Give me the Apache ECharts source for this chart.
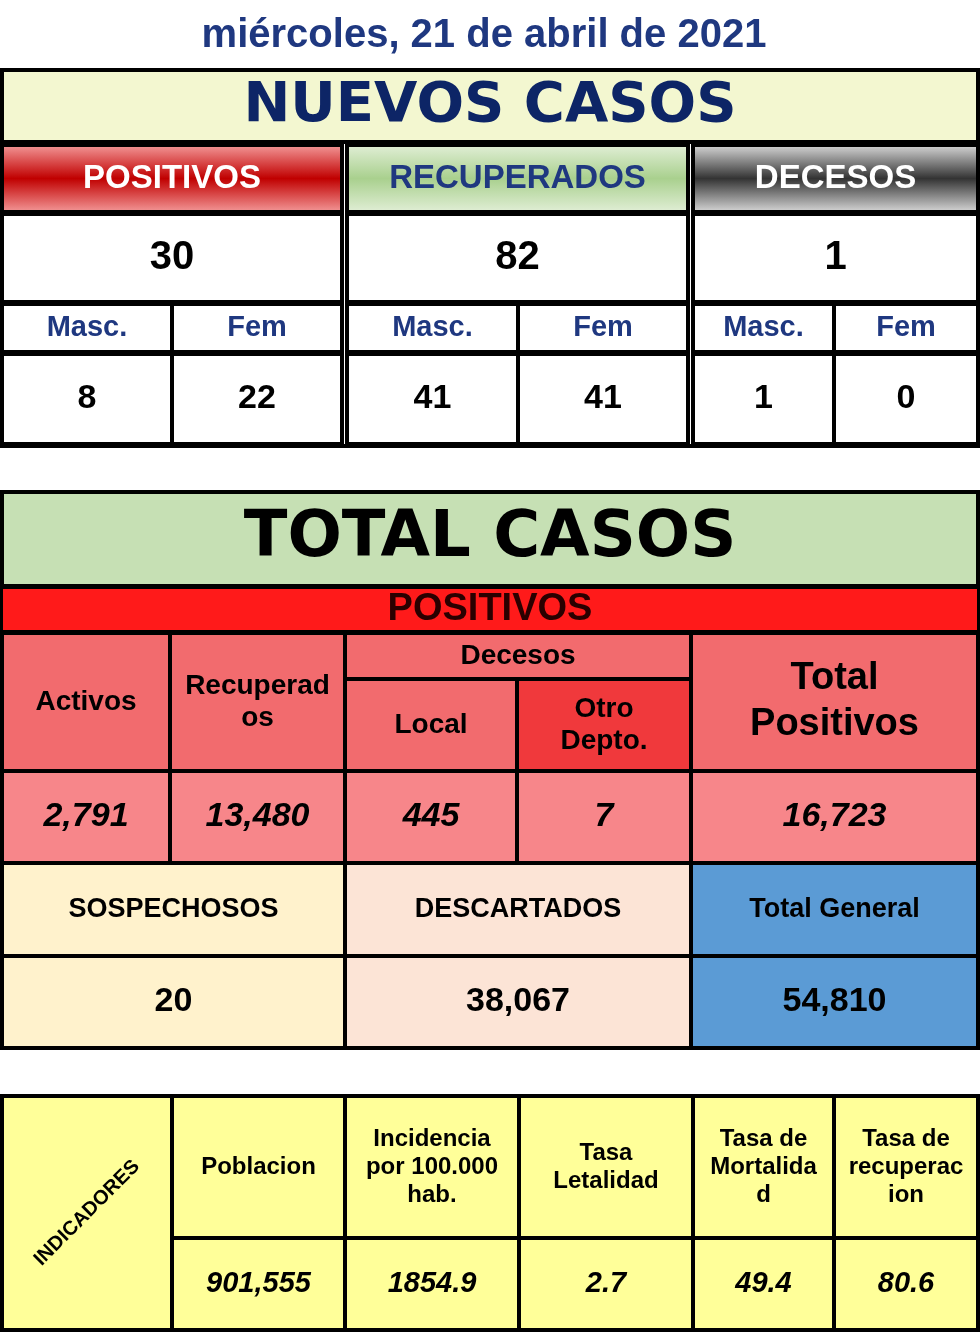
<!DOCTYPE html>
<html><head><meta charset="utf-8">
<script src="https://cdn.jsdelivr.net/npm/echarts@6/dist/echarts.min.js"></script>
<style>html,body{margin:0;padding:0;background:#fff}#c{width:980px;height:1332px}</style>
</head><body><div id="c"></div>
<script>
const fecha = "miércoles, 21 de abril de 2021";
const nuevosCat = ["POSITIVOS","RECUPERADOS","DECESOS"];
const nuevosTot = [30, 82, 1];
const sexo = ["Masc.","Fem"];
const nuevosSexo = [8, 22, 41, 41, 1, 0];
const totalHead = ["Activos","Recuperad\nos","Local","Otro\nDepto.","Total\nPositivos"];
const totalVals = ["2,791","13,480","445","7","16,723"];
const otrosCat = ["SOSPECHOSOS","DESCARTADOS","Total General"];
const otrosVals = ["20","38,067","54,810"];
const indHead = ["Poblacion","Incidencia\npor 100.000\nhab.","Tasa\nLetalidad","Tasa de\nMortalida\nd","Tasa de\nrecuperac\nion"];
const indVals = ["901,555","1854.9","2.7","49.4","80.6"];

const F = "Liberation Sans, Arial, sans-serif";
const FW = "DejaVu Sans, sans-serif";
const els = [];
function cell(x,y,w,h,fill,text,opt){
  opt=opt||{};
  els.push({type:'rect',shape:{x,y,width:w,height:h},style:{fill,stroke:opt.stroke||'#000',lineWidth:opt.lw==null?4:opt.lw}});
  if(text!==undefined && text!==null){
    els.push({type:'text',x:x+w/2,y:y+h/2,rotation:opt.rot||0,style:{text:String(text),align:'center',verticalAlign:'middle',
      fill:opt.color||'#000',font:(opt.italic?'italic ':'')+'bold '+(opt.size||30)+'px '+(opt.font||F),lineHeight:opt.lh||Math.round((opt.size||30)*1.15)}});
  }
}
function grad(edge,mid){return {type:'linear',x:0,y:0,x2:0,y2:1,colorStops:[{offset:0,color:edge},{offset:0.5,color:mid},{offset:1,color:edge}]};}

els.push({type:'text',x:484,y:36,style:{text:fecha,align:'center',verticalAlign:'middle',fill:'#1F3880',font:'bold 40px '+F}});
cell(2,70,976,376,'#fff',null);
cell(2,70,976,72,'#F3F7D0','NUEVOS CASOS',{size:56,color:'#0D2566',font:FW});
const c1=[[2,340],[347,341],[693,285]];
const headFill=[grad('#F6A0A0','#C00000'),grad('#E4F0DA','#A9D08E'),grad('#E0E0E0','#333333')];
const headCol=['#fff','#1F3880','#fff'];
c1.forEach((c,i)=>{
  cell(c[0],145,c[1],67,headFill[i],nuevosCat[i],{size:33,color:headCol[i]});
  cell(c[0],214,c[1],88,'#fff',nuevosTot[i],{size:40});
  let s0=170; if(i==1)s0=171; if(i==2)s0=141;
  const hw=[[0,s0],[s0,c[1]-s0]];
  hw.forEach((s,j)=>{
    cell(c[0]+s[0],304,s[1],48,'#fff',sexo[j],{size:29,color:'#1F3880'});
    cell(c[0]+s[0],354,s[1],90,'#fff',nuevosSexo[i*2+j],{size:34});
  });
});
cell(2,492,976,556,'#fff',null);
cell(2,492,976,94,'#C6E0B4','TOTAL CASOS',{size:64,font:FW});
cell(2,588,976,43,'#FF1A1A','POSITIVOS',{size:38,color:'#2A0000',lw:2});
const salmon='#F26B6E', pink='#F7868A';
cell(2,633,168,138,salmon,totalHead[0],{size:28});
cell(170,633,175,138,salmon,totalHead[1],{size:28,lh:32});
cell(345,633,346,46,salmon,'Decesos',{size:28});
cell(345,679,172,92,salmon,totalHead[2],{size:28});
cell(517,679,174,92,'#F0393C',totalHead[3],{size:28,lh:32});
cell(691,633,287,138,salmon,totalHead[4],{size:38,lh:46});
const vx=[[2,168],[170,175],[345,172],[517,174],[691,287]];
vx.forEach((v,i)=>cell(v[0],771,v[1],92,pink,totalVals[i],{size:34,italic:true}));
const ox=[[2,343],[345,346],[691,287]];
const ofill=['#FFF2CC','#FCE4D6','#5B9BD5'];
ox.forEach((o,i)=>{
  cell(o[0],863,o[1],93,ofill[i],otrosCat[i],{size:27});
  cell(o[0],956,o[1],92,ofill[i],otrosVals[i],{size:34});
});
const Y='#FFFF99';
cell(2,1096,976,234,Y,null);
cell(2,1096,170,234,Y,'INDICADORES',{size:20,rot:Math.PI/4});
const ix=[[172,173],[345,174],[519,174],[693,141],[834,144]];
ix.forEach((v,i)=>{
  cell(v[0],1096,v[1],142,Y,indHead[i],{size:24,lh:28});
  cell(v[0],1238,v[1],92,Y,indVals[i],{size:29,italic:true});
});
const chart=echarts.init(document.getElementById('c'),null,{renderer:'canvas'});
chart.setOption({animation:false,graphic:{elements:els}});
</script></body></html>
